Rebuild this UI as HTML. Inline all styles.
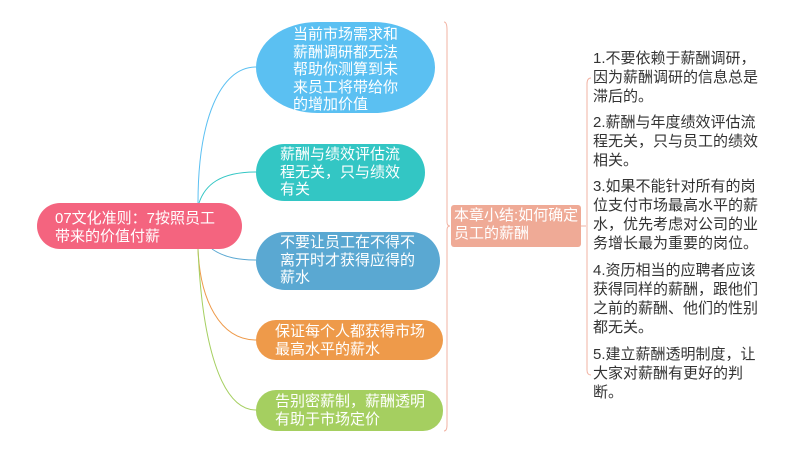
<!DOCTYPE html>
<html><head><meta charset="utf-8"><style>
body{margin:0;width:800px;height:452px;background:#fff;position:relative;overflow:hidden;font-family:"Liberation Sans","Noto Sans CJK SC",sans-serif;}
.n{position:absolute;color:#fff;font-size:15px;line-height:17.5px;box-sizing:border-box;}
.t{position:absolute;color:#333;font-size:15px;line-height:19px;left:593px;width:200px;}
</style></head><body>
<svg width="800" height="452" style="position:absolute;left:0;top:0">
<g fill="none" stroke-width="1">
<path d="M198,203 C198,120 220,67 256,67" stroke="#5bc0f2"/>
<path d="M199,203 C205,185 220,172 256,172" stroke="#33c6c4"/>
<path d="M212,249 C225,258 240,260 256,260" stroke="#5aa8d2"/>
<path d="M198,249 C200,300 220,340 256,340" stroke="#ee9a4a"/>
<path d="M198,249 C202,340 220,410 256,410" stroke="#a5cf60"/>
<path d="M444,22 Q447,22 447,30 L447,222 Q447,226 450,226 Q447,226 447,230 L447,425 Q447,431 444,431" stroke="#f2b3a3"/>
<path d="M581,226 L586,226" stroke="#f2b3a3"/>
<path d="M591,78 Q587,78 587,84 L587,370 Q587,375 591,375" stroke="#f2b3a3"/>
</g>
</svg>
<div class="n" style="left:37px;top:203px;width:205px;height:46px;background:#f4647f;border-radius:23px;padding:7px 0 0 18px;">07文化准则：7按照员工<br>带来的价值付薪</div>
<div class="n" style="left:256px;top:22px;width:179px;height:91px;background:#5bc0f2;border-radius:62px/46px;padding:4px 0 0 37px;">当前市场需求和<br>薪酬调研都无法<br>帮助你测算到未<br>来员工将带给你<br>的增加价值</div>
<div class="n" style="left:256px;top:144px;width:169px;height:57px;background:#33c6c4;border-radius:29px;padding:2px 0 0 24px;">薪酬与绩效评估流<br>程无关，只与绩效<br>有关</div>
<div class="n" style="left:256px;top:232px;width:184px;height:58px;background:#5aa8d2;border-radius:29px;padding:2px 0 0 24px;">不要让员工在不得不<br>离开时才获得应得的<br>薪水</div>
<div class="n" style="left:256px;top:320px;width:187px;height:40px;background:#ee9a4a;border-radius:20px;padding:3px 0 0 19px;">保证每个人都获得市场<br>最高水平的薪水</div>
<div class="n" style="left:256px;top:390px;width:187px;height:41px;background:#a5cf60;border-radius:20px;padding:3px 0 0 19px;">告别密薪制，薪酬透明<br>有助于市场定价</div>
<div class="n" style="left:451px;top:205px;width:130px;height:42px;background:#efaa96;border-radius:3px;padding:2px 0 0 3px;">本章小结:如何确定<br>员工的薪酬</div>
<div class="t" style="top:49px">1.不要依赖于薪酬调研，<br>因为薪酬调研的信息总是<br>滞后的。</div>
<div class="t" style="top:113px">2.薪酬与年度绩效评估流<br>程无关，只与员工的绩效<br>相关。</div>
<div class="t" style="top:177px">3.如果不能针对所有的岗<br>位支付市场最高水平的薪<br>水，优先考虑对公司的业<br>务增长最为重要的岗位。</div>
<div class="t" style="top:261px">4.资历相当的应聘者应该<br>获得同样的薪酬，跟他们<br>之前的薪酬、他们的性别<br>都无关。</div>
<div class="t" style="top:345px">5.建立薪酬透明制度，让<br>大家对薪酬有更好的判<br>断。</div>
</body></html>
